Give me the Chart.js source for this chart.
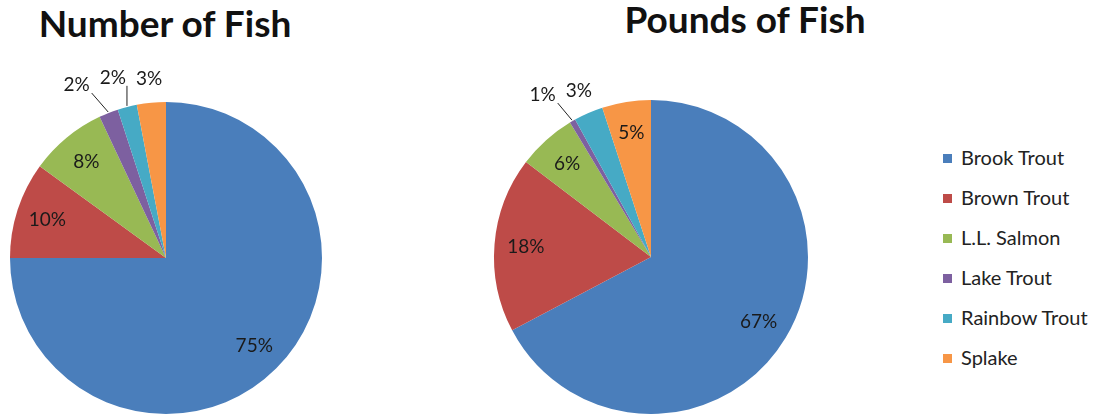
<!DOCTYPE html>
<html>
<head>
<meta charset="utf-8">
<script src="https://cdn.jsdelivr.net/npm/chart.js@4"></script>
<style>
  html, body { margin: 0; padding: 0; background: #fff; overflow: hidden; }
  #page { position: relative; width: 1100px; height: 414px; font-family: Lato, "Open Sans", sans-serif; }
  .title { position: absolute; font-weight: bold; font-size: 37px; color: #111; white-space: nowrap; transform: translateX(-50%); }
  .box { position: absolute; top: 0; width: 340px; height: 414px; }
  #legend { position: absolute; left: 943px; top: 145px; font-size: 20px; color: #222; }
  #legend div { height: 40px; display: flex; align-items: flex-start; }
  #legend span.sw { display: inline-block; width: 9px; height: 9px; margin: 9px 9px 0 0; }
</style>
</head>
<body>
<div id="page">
  <div class="title" style="left:165px; top:0px;">Number of Fish</div>
  <div class="title" style="left:745px; top:-4px;">Pounds of Fish</div>
  <div class="box" style="left:0px;"><canvas id="numberChart"></canvas></div>
  <div class="box" style="left:480px;"><canvas id="poundsChart"></canvas></div>
  <div id="legend"></div>
</div>
<script>
const species = ["Brook Trout", "Brown Trout", "L.L. Salmon", "Lake Trout", "Rainbow Trout", "Splake"];
const numberPct = [75, 10, 8, 2, 2, 3];
const poundsPct = [67, 18, 6, 0.6, 3, 5];
const colors = ["#4a7ebb", "#be4b48", "#98b954", "#7d60a0", "#46aac5", "#f79646"];

// percent labels: inside for big slices, outside (with a leader for tiny ones) otherwise
const pctLabels = {
    id: "pctLabels",
    afterDatasetsDraw(chart) {
        const ctx = chart.ctx;
        const arcs = chart.getDatasetMeta(0).data;
        const vals = chart.data.datasets[0].data;
        const total = vals.reduce((a, b) => a + b, 0);
        ctx.save();
        ctx.font = "19px Lato, 'Open Sans', sans-serif";
        ctx.fillStyle = "#1a1a1a";
        ctx.strokeStyle = "#222";
        ctx.lineWidth = 1;
        ctx.textAlign = "center";
        ctx.textBaseline = "middle";
        let lastBox = null;
        for (let i = arcs.length - 1; i >= 0; i--) {
            const a = arcs[i];
            const pct = vals[i] / total * 100;
            const mid = (a.startAngle + a.endAngle) / 2;
            const text = Math.max(1, Math.round(pct)) + "%";
            if (pct >= 4) {
                const r = a.outerRadius * 0.8;
                ctx.fillText(text, a.x + Math.cos(mid) * r, a.y + Math.sin(mid) * r);
                continue;
            }
            const small = pct < 2.5;
            const r = a.outerRadius + (small ? 30 : 24);
            let x = a.x + Math.cos(mid) * r;
            const y = a.y + Math.sin(mid) * r;
            const w = ctx.measureText(text).width;
            if (lastBox && x + w / 2 + 10 > lastBox.left) x = lastBox.left - 10 - w / 2;
            const box = { left: x - w / 2, right: x + w / 2, top: y - 8, bottom: y + 8 };
            lastBox = box;
            ctx.fillText(text, x, y);
            if (small) {
                const ex = a.x + Math.cos(mid) * (a.outerRadius + 1);
                const ey = a.y + Math.sin(mid) * (a.outerRadius + 1);
                const px = Math.min(Math.max(ex, box.left), box.right + 2);
                const py = Math.min(Math.max(ey, box.top), box.bottom);
                ctx.beginPath();
                ctx.moveTo(ex, ey);
                ctx.lineTo(px, py);
                ctx.stroke();
            }
        }
        ctx.restore();
    }
};

function makePie(id, values, padding) {
    return new Chart(document.getElementById(id), {
        type: "pie",
        data: {
            labels: species,
            datasets: [{
                data: values,
                backgroundColor: colors,
                borderWidth: 0
            }]
        },
        options: {
            responsive: true,
            maintainAspectRatio: false,
            animation: false,
            layout: { padding: padding },
            plugins: {
                legend: { display: false },
                tooltip: { enabled: false }
            }
        },
        plugins: [pctLabels]
    });
}

makePie("numberChart", numberPct, { top: 102, bottom: 0, left: 10, right: 18 });
makePie("poundsChart", poundsPct, { top: 100, bottom: 0, left: 14, right: 12 });

const legend = document.getElementById("legend");
species.forEach((name, i) => {
    const row = document.createElement("div");
    const sw = document.createElement("span");
    sw.className = "sw";
    sw.style.background = colors[i];
    row.appendChild(sw);
    row.appendChild(document.createTextNode(name));
    legend.appendChild(row);
});
</script>
</body>
</html>
